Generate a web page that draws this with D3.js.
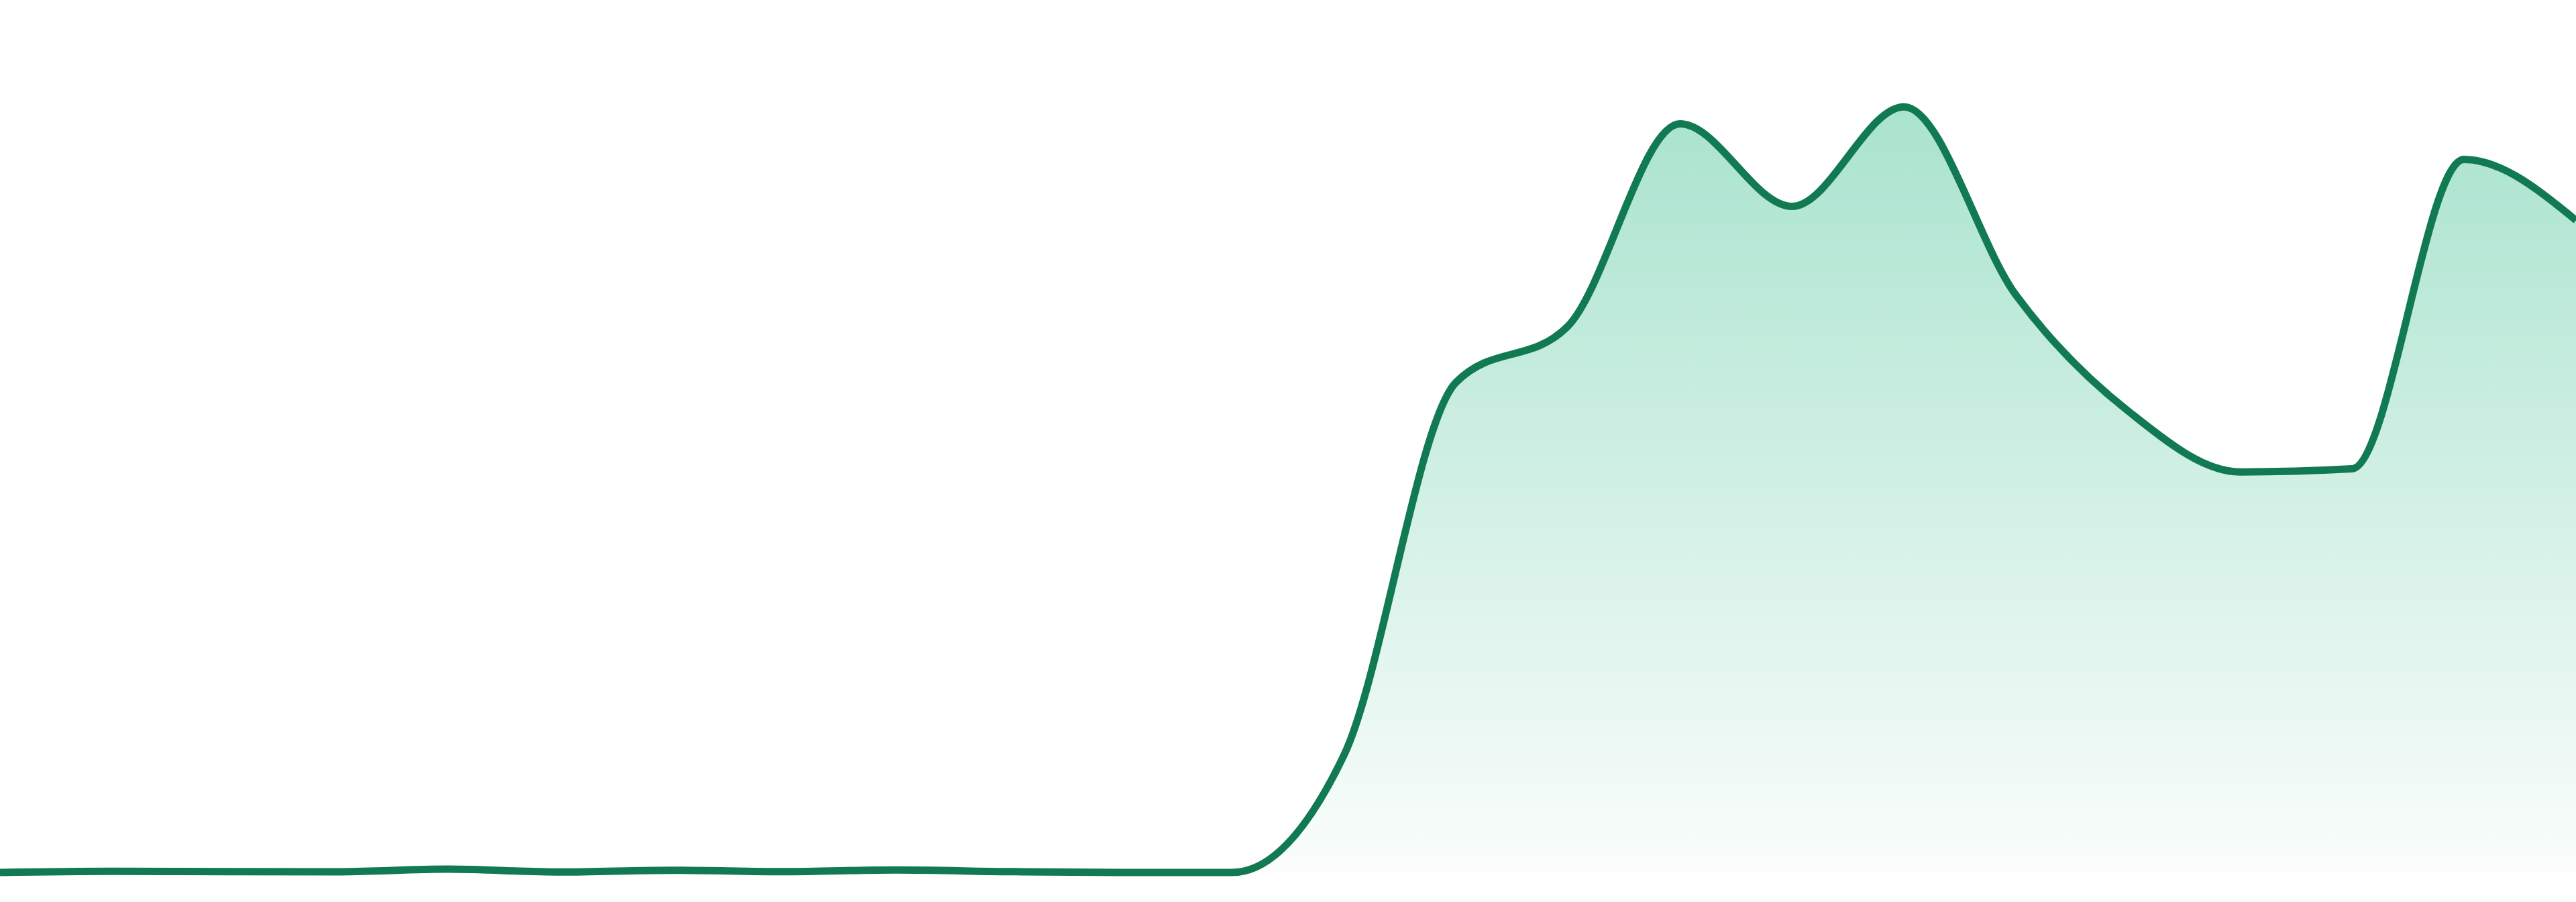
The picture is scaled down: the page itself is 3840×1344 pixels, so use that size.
<!DOCTYPE html>
<html>
<head>
<meta charset="utf-8">
<script src="https://cdn.jsdelivr.net/npm/d3@7/dist/d3.min.js"></script>
<style>
  html, body { margin: 0; padding: 0; background: #fff; }
  svg { display: block; }
</style>
</head>
<body>
<script>
// one point per hour of the day
const hours = ['00:00', '01:00', '02:00', '03:00', '04:00', '05:00', '06:00', '07:00',
               '08:00', '09:00', '10:00', '11:00', '12:00', '13:00', '14:00', '15:00',
               '16:00', '17:00', '18:00', '19:00', '20:00', '21:00', '22:00', '23:00']

const values = [0, 0.15, 0.11, 0.09, 0.43, 0.06, 0.29, 0.11,
                0.32, 0.11, 0, 0, 15.2, 63.5, 70.8, 97.0,
                86.3, 99.2, 74.8, 59.8, 51.9, 52.3, 92.4, 84.5]

const m = {
    width: 3840,
    height: 1344,
    top: 150,
    bottom: 44
}

const svg = d3.select('body').append('svg')
    .attr('width', m.width)
    .attr('height', m.height)

const x = d3.scalePoint()
    .domain(hours)
    .range([0, m.width])

const y = d3.scaleLinear()
    .domain([0, 100])
    .range([m.height - m.bottom, m.top])

const data = hours.map((h, i) => ({ hour: h, value: values[i] }))

// soft mint fill fading out toward the baseline
const grad = svg.append('defs').append('linearGradient')
    .attr('id', 'fill')
    .attr('gradientUnits', 'userSpaceOnUse')
    .attr('x1', 0).attr('x2', 0)
    .attr('y1', y(d3.max(values)))
    .attr('y2', y(0))

grad.append('stop').attr('offset', '0%').attr('stop-color', '#a9e3ce')
grad.append('stop').attr('offset', '100%').attr('stop-color', '#fafdfc')

const area = d3.area()
    .curve(d3.curveMonotoneX)
    .x(d => x(d.hour))
    .y0(y(0))
    .y1(d => y(d.value))

const line = d3.line()
    .curve(d3.curveMonotoneX)
    .x(d => x(d.hour))
    .y(d => y(d.value))

svg.append('path')
    .datum(data)
    .attr('fill', 'url(#fill)')
    .attr('d', area)

svg.append('path')
    .datum(data)
    .attr('fill', 'none')
    .attr('stroke', '#117a52')
    .attr('stroke-width', 11)
    .attr('stroke-linejoin', 'round')
    .attr('d', line)
</script>
</body>
</html>
